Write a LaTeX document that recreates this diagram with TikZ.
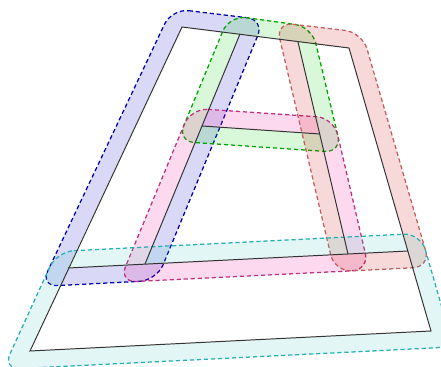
\documentclass[tikz,border=0pt]{standalone}
\usetikzlibrary{calc}

\definecolor{redline}{RGB}{195,95,95}
\definecolor{tealline}{RGB}{40,175,180}
\definecolor{mintfill}{RGB}{60,200,190}
\newcommand{\bandr}{0.425cm}
% band round one face: #1 fill, #2 outline, #3-#6 corners (clockwise)
\newcommand{\faceband}[6]{%
  \path ($(#3)!\bandr!90:(#4)$) coordinate (s1) ($(#4)!\bandr!-90:(#3)$) coordinate (e1)
        ($(#4)!\bandr!90:(#5)$) coordinate (s2) ($(#5)!\bandr!-90:(#4)$) coordinate (e2)
        ($(#5)!\bandr!90:(#6)$) coordinate (s3) ($(#6)!\bandr!-90:(#5)$) coordinate (e3)
        ($(#6)!\bandr!90:(#3)$) coordinate (s4) ($(#3)!\bandr!-90:(#6)$) coordinate (e4);
  \path (intersection of s4--e4 and s1--e1) coordinate (m1)
        (intersection of s1--e1 and s2--e2) coordinate (m2)
        (intersection of s2--e2 and s3--e3) coordinate (m3)
        (intersection of s3--e3 and s4--e4) coordinate (m4);
  \fill[#1, fill opacity=.15, even odd rule] [rounded corners=\bandr] (m1) -- (m2) -- (m3) -- (m4) -- cycle
        [sharp corners] (#3) -- (#4) -- (#5) -- (#6) -- cycle;
  \draw[hull, #2, rounded corners=\bandr] (m1) -- (m2) -- (m3) -- (m4) -- cycle;
}

\begin{document}
\begin{tikzpicture}[
    x=0.025cm, y=-0.025cm,
    edge/.style={black!80, line width=0.7pt},
    hull/.style={densely dashed, line width=0.9pt},
  ]
  \useasboundingbox (0,0) rectangle (441,367);
  % corners of the figure
  \coordinate (A) at (182,27);
  \coordinate (B) at (240,34);
  \coordinate (C) at (298,42);
  \coordinate (D) at (349,48);
  \coordinate (E) at (202,126);
  \coordinate (G) at (320,134);
  \coordinate (H) at (68,268);
  \coordinate (J) at (145,264);
  \coordinate (F) at (348,254);
  \coordinate (I) at (408,251);
  \coordinate (K) at (30,351);
  \coordinate (L) at (431,331);
  % faces
  \faceband{blue!80!black}{blue!70!black}{A}{B}{J}{H}
  \faceband{green!80!black}{green!65!black}{B}{C}{G}{E}
  \faceband{magenta}{magenta!75!black}{E}{G}{F}{J}
  \faceband{red!80!black}{redline}{C}{D}{I}{F}
  \faceband{mintfill}{tealline}{H}{I}{L}{K}
  % edges
  \draw[edge] (A) -- (D) -- (L) -- (K) -- cycle;
  \draw[edge] (B) -- (J);
  \draw[edge] (C) -- (F);
  \draw[edge] (E) -- (G);
  \draw[edge] (H) -- (I);
\end{tikzpicture}
\end{document}
